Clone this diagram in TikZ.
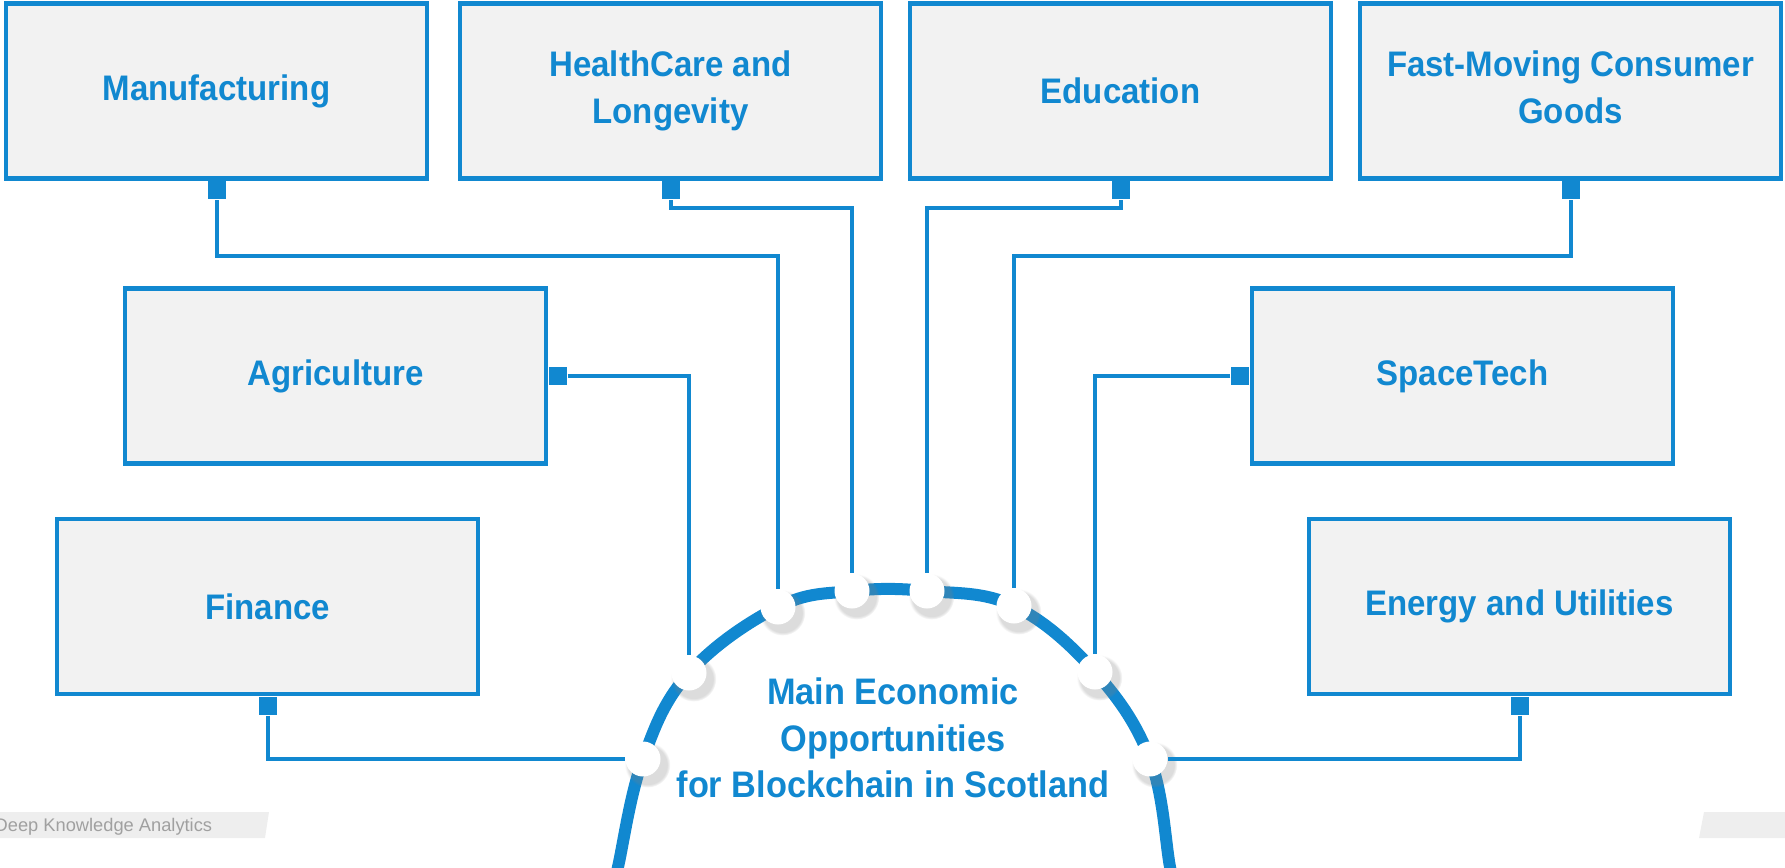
\documentclass[tikz,border=0pt]{standalone}
\usepackage{fontspec}
\setmainfont{Liberation Sans}
\newfontfamily\headfont[FakeStretch=0.93]{Liberation Sans}
\usetikzlibrary{shadows}
\definecolor{dkblue}{HTML}{1188D0}
\definecolor{boxgray}{HTML}{F2F2F2}
\definecolor{markgray}{HTML}{EEEEEE}
\definecolor{marktext}{HTML}{A0A0A0}
\begin{document}
\begin{tikzpicture}[x=0.1mm,y=0.1mm,
  sector/.style={draw=dkblue,line width=0.45mm,fill=boxgray,minimum width=42.1mm,minimum height=17.5mm,
    inner sep=0pt,align=center,text=dkblue,font=\headfont\bfseries\fontsize{10.1}{13.3}\selectfont},
  tip/.style={fill=dkblue,minimum size=1.8mm,inner sep=0pt},
  link/.style={draw=dkblue,line width=0.4mm},
  port/.style={circle,fill=white,minimum size=3.5mm,inner sep=0pt,
    circular drop shadow={shadow scale=1.3,shadow xshift=0.35mm,shadow yshift=-0.45mm,opacity=0.28}}]
  \useasboundingbox (0,0) rectangle (1785,867);
  % watermark bands
  \fill[markgray] (0,55) -- (269,55) -- (265,29) -- (0,29) -- cycle;
  \fill[markgray] (1704,55) -- (1785,55) -- (1785,29) -- (1699,29) -- cycle;
  \node[anchor=base west,inner sep=0pt,text=marktext,font=\fontsize{5.2}{6}\selectfont] (credit) at (-6,36) {Deep Knowledge Analytics};
  % sectors
  \node[sector] (manu) at (216.5,776) {Manufacturing};
  \node[sector] (health) at (670.5,776) {HealthCare and\\Longevity};
  \node[sector] (edu) at (1120.5,776) {Education};
  \node[sector] (fmcg) at (1570.5,776) {Fast-Moving Consumer\\Goods\vphantom{y}};
  \node[sector] (agri) at (335.5,491) {Agriculture};
  \node[sector] (space) at (1462.5,491) {SpaceTech};
  \node[sector] (fin) at (267.5,260.5) {Finance};
  \node[sector] (energy) at (1519.5,260.5) {Energy and Utilities};
  % square tips
  \node[tip,anchor=north] (manuT) at (manu.south) {};
  \node[tip,anchor=north] (healthT) at (health.south) {};
  \node[tip,anchor=north] (eduT) at (edu.south) {};
  \node[tip,anchor=north] (fmcgT) at (fmcg.south) {};
  \node[tip,anchor=west] (agriT) at (agri.east) {};
  \node[tip,anchor=east] (spaceT) at (space.west) {};
  \node[tip,anchor=north] (finT) at (fin.south) {};
  \node[tip,anchor=north] (energyT) at (energy.south) {};
  % ring
  \coordinate (c1) at (643,108); \coordinate (c2) at (689,194);
  \coordinate (c3) at (778,260); \coordinate (c4) at (852,276);
  \coordinate (c5) at (927,276); \coordinate (c6) at (1014,261);
  \coordinate (c7) at (1095,195); \coordinate (c8) at (1150,108);
  \draw[dkblue,line width=1.2mm] plot[smooth,tension=0.65] coordinates
    {(612,-30) (618,0) (c1) (c2) (c3) (c4) (c5) (c6) (c7) (c8) (1170,0) (1176,-30)};
  \foreach \i in {1,...,8} \node[port] (p\i) at (c\i) {};
  \node[text=dkblue,align=center,font=\headfont\bfseries\fontsize{10.5}{13.3}\selectfont] (title) at (893,129)
    {Main Economic\\Opportunities\\for Blockchain in Scotland};
  % connectors
  \draw[link] (manuT.south) -- ++(0,-56) -| (p3);
  \draw[link] (healthT.south) -- ++(0,-8) -| (p4);
  \draw[link] (eduT.south) -- ++(0,-8) -| (p5);
  \draw[link] (fmcgT.south) -- ++(0,-56) -| (p6);
  \draw[link] (agriT.east) -| (p2);
  \draw[link] (spaceT.west) -| (p7);
  \draw[link] (finT.south) |- (p1);
  \draw[link] (energyT.south) |- (p8);
\end{tikzpicture}
\end{document}
